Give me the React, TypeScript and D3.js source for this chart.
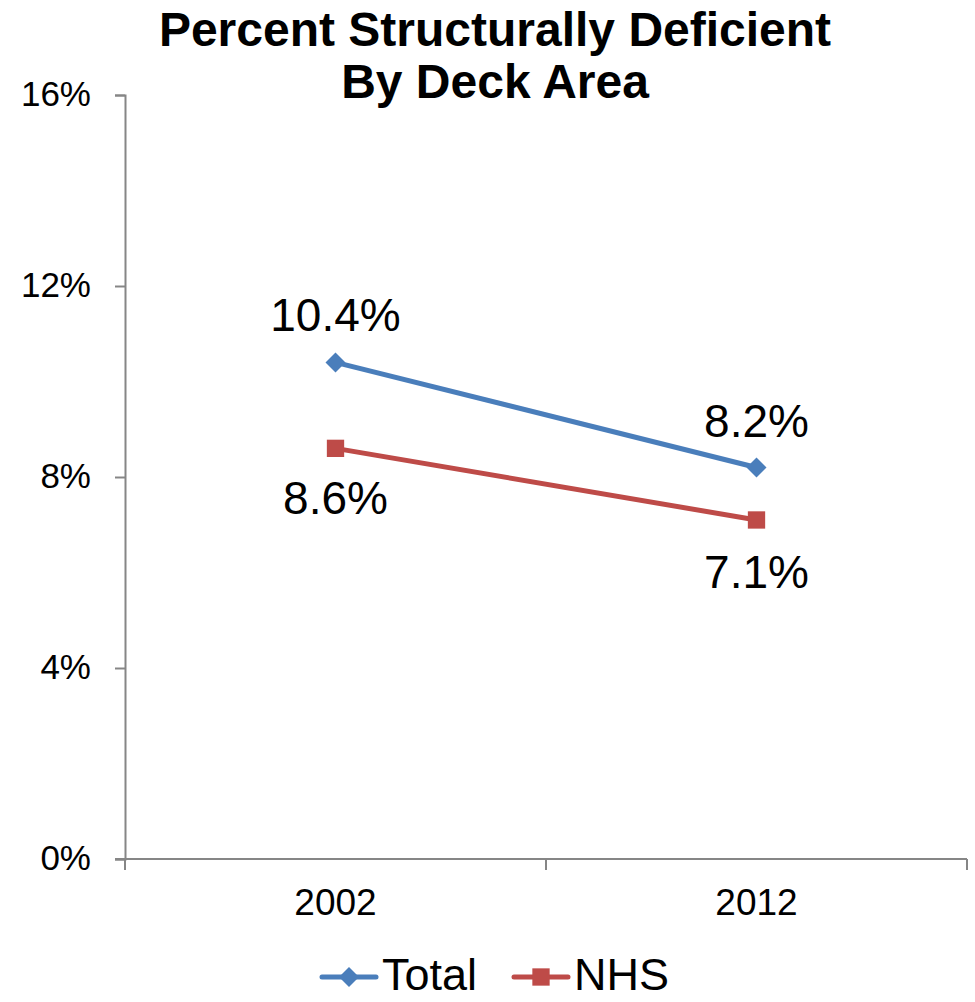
import * as d3 from "d3";
import React, { useEffect, useRef } from "react";

const categories = ["2002", "2012"];
const totalValues = [10.4, 8.2];
const nhsValues = [8.6, 7.1];
const yTicks = [0, 4, 8, 12, 16];

const width = 975,
  height = 1002;
const margin = { top: 95, right: 8, bottom: 143, left: 125 };
const font = "'Liberation Sans', Arial, sans-serif";

const App: React.FC = () => {
  const ref = useRef<SVGSVGElement>(null);

  useEffect(() => {
    if (!ref.current) return;
    const svg = d3.select(ref.current);
    svg.selectAll("*").remove();

    const x = d3
      .scaleBand()
      .domain(categories)
      .range([margin.left, width - margin.right]);
    const y = d3
      .scaleLinear()
      .domain([0, 16])
      .range([height - margin.bottom, margin.top]);

    const axisColor = "#868686";

    // y axis
    const yAxis = svg
      .append("g")
      .attr("transform", `translate(${margin.left},0)`)
      .call(
        d3
          .axisLeft(y)
          .tickValues(yTicks)
          .tickSize(10)
          .tickPadding(24)
          .tickFormat((d) => `${d}%`)
      );
    yAxis.select(".domain").attr("stroke", axisColor).attr("stroke-width", 2);
    yAxis.selectAll(".tick line").attr("stroke", axisColor).attr("stroke-width", 2);
    yAxis
      .selectAll(".tick text")
      .attr("font-family", font)
      .attr("font-size", 35)
      .attr("fill", "#000")
      .attr("dy", "0.3em");

    // x axis
    const x0 = height - margin.bottom;
    const xg = svg.append("g");
    xg.append("line")
      .attr("x1", margin.left - 10)
      .attr("x2", x.range()[1])
      .attr("y1", x0)
      .attr("y2", x0)
      .attr("stroke", axisColor)
      .attr("stroke-width", 2);
    const bounds = [...categories.map((c) => x(c)!), x.range()[1]];
    xg.selectAll("line.tk")
      .data(bounds)
      .join("line")
      .attr("class", "tk")
      .attr("x1", (d) => d)
      .attr("x2", (d) => d)
      .attr("y1", x0)
      .attr("y2", x0 + 11)
      .attr("stroke", axisColor)
      .attr("stroke-width", 2);
    xg.selectAll("text")
      .data(categories)
      .join("text")
      .attr("x", (d) => x(d)! + x.bandwidth() / 2)
      .attr("y", x0 + 56)
      .attr("text-anchor", "middle")
      .attr("font-family", font)
      .attr("font-size", 37)
      .text((d) => d);

    const cx = (i: number) => x(categories[i])! + x.bandwidth() / 2;

    const series = [
      { name: "Total", values: totalValues, color: "#4A7EBB", shape: "diamond", labelDy: [-31, -30] },
      { name: "NHS", values: nhsValues, color: "#BE4B48", shape: "square", labelDy: [66, 68] },
    ];

    const line = d3
      .line<number>()
      .x((_, i) => cx(i))
      .y((d) => y(d));

    const symbolPath = (shape: string) =>
      shape === "diamond"
        ? d3.symbol(d3.symbolSquare, 200)()!
        : d3.symbol(d3.symbolSquare, 300)()!;

    series.forEach((s) => {
      svg
        .append("path")
        .datum(s.values)
        .attr("d", line)
        .attr("fill", "none")
        .attr("stroke", s.color)
        .attr("stroke-width", 5);
      svg
        .selectAll(`path.m-${s.name}`)
        .data(s.values)
        .join("path")
        .attr("class", `m-${s.name}`)
        .attr("d", symbolPath(s.shape))
        .attr(
          "transform",
          (d, i) => `translate(${cx(i)},${y(d)})${s.shape === "diamond" ? " rotate(45)" : ""}`
        )
        .attr("fill", s.color);
      svg
        .selectAll(`text.l-${s.name}`)
        .data(s.values)
        .join("text")
        .attr("class", `l-${s.name}`)
        .attr("x", (_, i) => cx(i))
        .attr("y", (d, i) => y(d) + s.labelDy[i])
        .attr("text-anchor", "middle")
        .attr("font-family", font)
        .attr("font-size", 46)
        .text((d) => `${d.toFixed(1)}%`);
    });

    // title
    const title = svg
      .append("text")
      .attr("text-anchor", "middle")
      .attr("font-family", font)
      .attr("font-size", 48)
      .attr("font-weight", "bold");
    title.append("tspan").attr("x", 495).attr("y", 46).text("Percent Structurally Deficient");
    title.append("tspan").attr("x", 495).attr("y", 98).text("By Deck Area");

    // legend
    const legend = [
      { name: "Total", color: "#4A7EBB", shape: "diamond", x: 322 },
      { name: "NHS", color: "#BE4B48", shape: "square", x: 514 },
    ];
    const ly = 977;
    legend.forEach((l) => {
      const g = svg.append("g");
      g.append("line")
        .attr("x1", l.x)
        .attr("x2", l.x + 54)
        .attr("y1", ly)
        .attr("y2", ly)
        .attr("stroke", l.color)
        .attr("stroke-width", 5)
        .attr("stroke-linecap", "round");
      g.append("path")
        .attr("d", symbolPath(l.shape))
        .attr(
          "transform",
          `translate(${l.x + 27},${ly})${l.shape === "diamond" ? " rotate(45)" : ""}`
        )
        .attr("fill", l.color);
      g.append("text")
        .attr("x", l.x + 60)
        .attr("y", ly + 13)
        .attr("font-family", font)
        .attr("font-size", 45)
        .text(l.name);
    });
  }, []);

  return (
    <svg
      ref={ref}
      width={width}
      height={height}
      style={{ position: "absolute", left: 0, top: 0, background: "#fff" }}
    />
  );
};

export default App;
